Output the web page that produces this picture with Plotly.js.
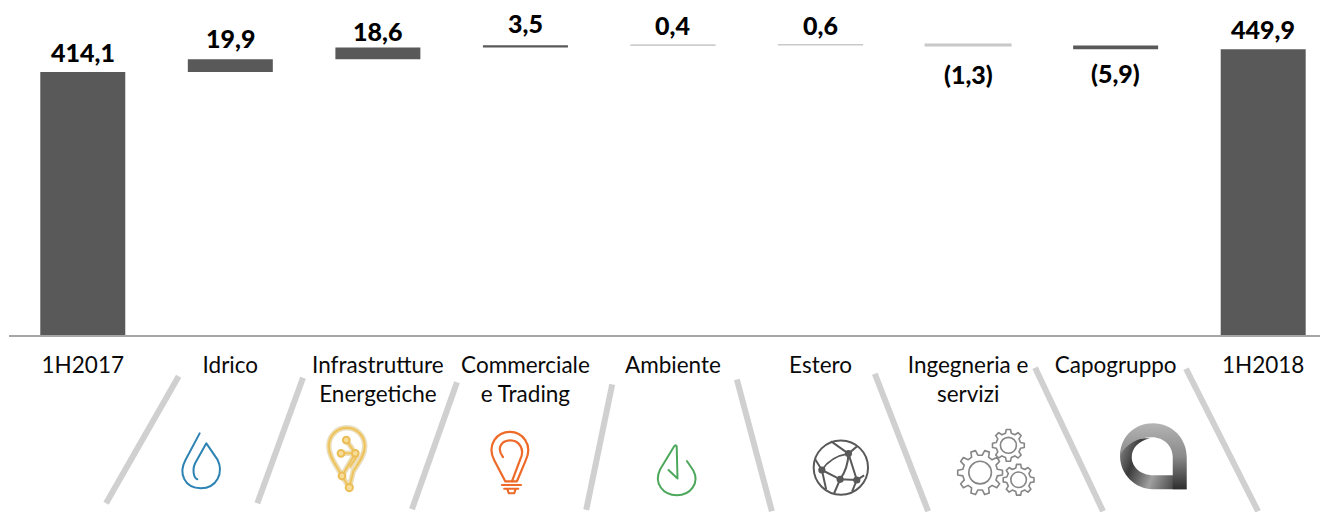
<!DOCTYPE html>
<html><head><meta charset="utf-8">
<script src="https://cdn.plot.ly/plotly-3.0.1.min.js"></script>
<style>html,body{margin:0;padding:0;background:#fff;overflow:hidden}</style>
</head><body><div id="chart" style="width:1320px;height:512px"></div>
<script>
const categories = ['1H2017','Idrico','Infrastrutture<br>Energetiche','Commerciale<br>e Trading','Ambiente','Estero','Ingegneria e<br>servizi','Capogruppo','1H2018'];
const values = [414.1, 19.9, 18.6, 3.5, 0.4, 0.6, -1.3, -5.9, 449.9];
const isTotal = [true,false,false,false,false,false,false,false,true];
const labels = ['414,1','19,9','18,6','3,5','0,4','0,6','(1,3)','(5,9)','449,9'];

const W = 1320, H = 512, L = 8.6, AXIS = 335.5, PXU = 0.6363;
const dark = '#595959', light = '#c8c8c8';
const colors = values.map(v => Math.abs(v) < 2 ? light : dark);
const edges = values.map(v => Math.abs(v) < 1 ? 1 : (Math.abs(v) < 2 ? 2 : 0));
let run = 0;
const bases = values.map((v,i) => { if (isTotal[i]) { run = v; return 0; } const b = run; run += v; return b; });
const tops = values.map((v,i) => Math.max(bases[i], bases[i] + v));
const labelShift = [20,21,16,22,20,20,-29,-28,20];

const trace = {type:'bar', x:categories, y:values, base:bases, width:0.576,
  marker:{color:colors, line:{width:edges, color:colors}}, hoverinfo:'skip', showlegend:false};

const annotations = categories.map((c,i)=>({x:c, y:tops[i], xref:'x', yref:'y', text:labels[i],
  showarrow:false, yanchor:'middle', xanchor:'center', yshift:labelShift[i],
  font:{family:'Lato, sans-serif', weight:900, size:25, color:'#000'}}));

const px = x => (x - L) / (W - L);
const py = y => (AXIS - y) / AXIS;
const dividers = [[178.3,376.7,105.7,504],[302.7,378.3,257,504],[456.7,382.7,411.7,510],[612,385,586,510.7],
  [736.7,380,771.7,512],[874.7,374.3,928,512],[1035,368.3,1103,512],[1186,369.3,1258,512]];
const shapes = dividers.map(d=>({type:'line', xref:'paper', yref:'paper', x0:px(d[0]), y0:py(d[1]), x1:px(d[2]), y1:py(d[3]),
  line:{color:'#d0d0d0', width:6}, layer:'above'}));

function gear(cx,cy,r,teeth){
  let pts=[]; const n=teeth, ro=r, ri=r*0.78;
  for(let k=0;k<n;k++){
    const a=k*2*Math.PI/n, s=2*Math.PI/n;
    [[-0.30,ri],[-0.17,ro],[0.17,ro],[0.30,ri]].forEach(p=>{
      pts.push((cx+p[1]*Math.cos(a+p[0]*s)).toFixed(1)+','+(cy+p[1]*Math.sin(a+p[0]*s)).toFixed(1));
    });
  }
  return '<path d="M'+pts.join(' L')+' Z"/><circle cx="'+cx+'" cy="'+cy+'" r="'+(r*0.5).toFixed(1)+'"/>';
}
const bulbPath = 'M346.5,428.5 C336,428.5 328.5,437 328.5,447 C328.5,458 337,467 341.7,476.7 M346.5,428.5 C357,428.5 364.5,437 364.5,447 C364.5,456 358,464 353,472 L349,488.3 M346,440.7 L355,454 L341.7,476.7 L349,488.3 M340.7,454 L355,454 M350,467 L356,458';
const icons = [
 {b:[175,428,52,66], s:'<g fill="none" stroke="#2d83b3" stroke-width="2" stroke-linecap="round" stroke-linejoin="round"><path d="M199.3,434 L185,461 C178,474 184,489 200.5,489 C216,489 224,474 217,460 L206,444 L197,460 C190,470 194,479 197,480"/></g>'},
 {b:[322,422,50,74], s:'<g fill="none" stroke-linejoin="round" stroke-linecap="round"><path stroke="#e6e0cc" stroke-width="5.5" d="'+bulbPath+'"/><path stroke="#f3d994" stroke-width="3.6" d="'+bulbPath+'"/><path stroke="#ecc05c" stroke-width="1.6" d="'+bulbPath+'"/><g fill="#f6dc98" stroke="#ebbd55" stroke-width="2"><circle cx="346" cy="440.7" r="3.4"/><circle cx="340.7" cy="454" r="3.4"/><circle cx="355" cy="454" r="3.4"/><circle cx="341.7" cy="476.7" r="3.4"/><circle cx="349" cy="488.3" r="3.6"/></g></g>'},
 {b:[485,428,50,72], s:'<g fill="none" stroke="#ee6a28" stroke-width="2.2" stroke-linecap="round" stroke-linejoin="round"><path d="M505,482 L494,461 C486,445 497,432.5 509.7,432.5 C522,432.5 533,445 525.5,461 L516.7,482 Z"/><path d="M502.7,457.7 C496,449 501,441 510,441 C519,441 525,450 520,460 L511.7,482"/><path d="M501.7,485.7 L520.7,485.7 M504,489.5 L518,489.5 M507,489.5 L508.5,494 L514,494 L515.5,489.5"/></g>'},
 {b:[652,441,50,60], s:'<g fill="none" stroke="#4da85b" stroke-width="2" stroke-linecap="round" stroke-linejoin="round"><path d="M686.7,461.7 L693,471 C700,484 690,496 676.7,496 C663,496 653,484 660,470 L674,447 C675,445.5 676,445.5 676.5,447 L677.3,479.3 L668.3,470.7"/></g>'},
 {b:[808,436,66,66], s:'<g fill="none" stroke="#595959" stroke-width="2"><circle cx="840.7" cy="468.3" r="27.2"/><path d="M821.7,470.7 C828,461 838,456 848.3,454.3 M848.3,454.3 L856.7,480.7 M848.3,454.3 C848,465 845,473 840,480 L834,494 M821.7,470.7 L840,480 L856.7,480.7 L864,476 M821.7,470.7 L815,460 M821.7,470.7 L826,490 M848.3,454.3 L831,442 M848.3,454.3 L857,447 M856.7,480.7 L852,492"/></g><g fill="#595959"><circle cx="821.7" cy="470.7" r="3.6"/><circle cx="848.3" cy="454.3" r="3.6"/><circle cx="840" cy="480" r="3.6"/><circle cx="856.7" cy="480.7" r="3.6"/></g>'},
 {b:[952,425,88,76], s:'<g fill="#fff" stroke="#868686" stroke-width="1.6" stroke-linejoin="round">'+gear(1008.3,446,16,8)+gear(1018.5,480.5,15.5,8)+gear(980,473.3,22.5,10)+'</g>'},
 {b:[1115,420,76,74], s:'<defs><linearGradient id="g1" x1="0" y1="0" x2="0" y2="1"><stop offset="0" stop-color="#b4b4b4"/><stop offset="0.5" stop-color="#8a8a8a"/><stop offset="1" stop-color="#2e2e2e"/></linearGradient><linearGradient id="g2" x1="0" y1="0" x2="1" y2="0.3"><stop offset="0" stop-color="#8f8f8f"/><stop offset="0.3" stop-color="#3a3a3a"/><stop offset="0.65" stop-color="#a0a0a0"/><stop offset="1" stop-color="#4a4a4a"/></linearGradient></defs><path fill="url(#g2)" fill-rule="evenodd" d="M1120,457 C1120,475 1135,490 1153,490 L1186.7,490 L1172.7,476 L1153,476 C1141,476 1131.7,468 1131.7,458 C1131.7,449 1138,442 1150,439 C1133,438 1120,445 1120,457 Z"/><path fill="url(#g1)" d="M1120,457 C1120,437 1135,424 1153,424 C1172,424 1186.7,439 1186.7,458 L1186.7,490 L1172.7,490 L1172.7,458 C1172.7,447 1164,438 1152,438 C1138,438 1125,445 1120,457 Z"/>'}
];
const images = icons.map(ic=>{
  const [x,y,w,h]=ic.b;
  const svg='<svg xmlns="http://www.w3.org/2000/svg" width="'+w*3+'" height="'+h*3+'" viewBox="'+x+' '+y+' '+w+' '+h+'">'+ic.s+'</svg>';
  return {source:'data:image/svg+xml;base64,'+btoa(svg), xref:'paper', yref:'paper', x:px(x), y:py(y),
    sizex:w/(W-L), sizey:h/AXIS, xanchor:'left', yanchor:'top', sizing:'stretch', layer:'above'};
});

const layout = {width:W, height:H, margin:{l:L, r:0, t:0, b:H-AXIS, pad:0}, paper_bgcolor:'#fff', plot_bgcolor:'#fff',
  showlegend:false, annotations, shapes, images,
  xaxis:{type:'category', categoryorder:'array', categoryarray:categories, range:[-0.5, 8.385], tickangle:0, ticks:'', ticklabelstandoff:9,
    tickfont:{family:'Lato, sans-serif', size:22.5, color:'#0a0a0a'}, showgrid:false, zeroline:false, showline:true, linecolor:'#a6a6a6', linewidth:2, automargin:false},
  yaxis:{range:[0, AXIS/PXU], visible:false, fixedrange:true}};
Plotly.newPlot('chart',[trace],layout,{displayModeBar:false,staticPlot:true});
</script></body></html>
